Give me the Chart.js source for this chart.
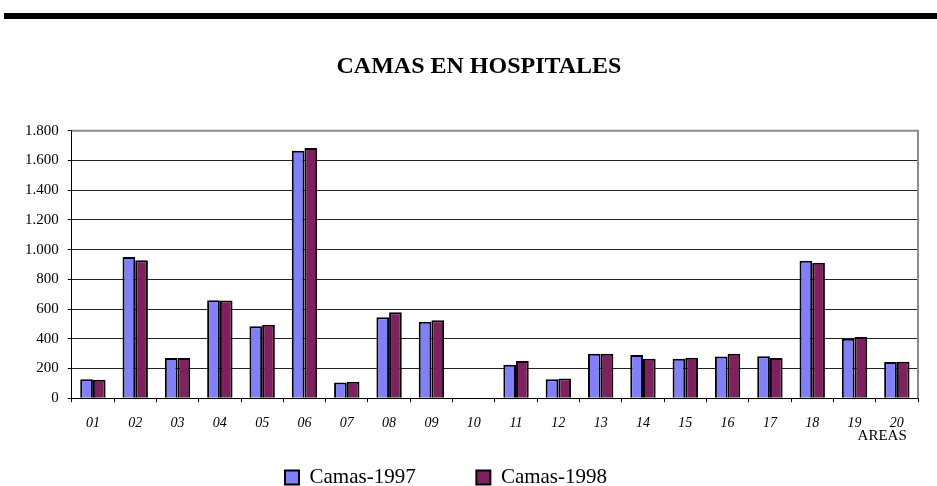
<!DOCTYPE html>
<html>
<head>
<meta charset="utf-8">
<style>
body { margin: 0; background: #fff; overflow: hidden; }
#rule { position: absolute; left: 4px; top: 13px; width: 933px; height: 6px; background: #000; }
#wrap { position: absolute; left: 0; top: 0; width: 937px; height: 498px; }
</style>
<title>CAMAS EN HOSPITALES</title>
</head>
<body>
<script src="https://cdn.jsdelivr.net/npm/chart.js@4/dist/chart.umd.min.js"></script>
<div id="rule"></div>
<div id="wrap"><canvas id="camas"></canvas></div>
<script>
var areas = ["01","02","03","04","05","06","07","08","09","10","11","12","13","14","15","16","17","18","19","20"];
var camas1997 = [128, 950, 270, 660, 485, 1665, 105, 545, 515, 0, 225, 128, 300, 290, 265, 280, 282, 925, 400, 243];
var camas1998 = [125, 928, 270, 658, 495, 1685, 110, 578, 525, 0, 250, 133, 300, 265, 272, 300, 270, 912, 412, 246];

var serif = "'Liberation Serif', 'Times New Roman', serif";

// borde gris del area de trazado (arriba y derecha)
var plotBorder = {
  id: 'plotBorder',
  beforeDatasetsDraw: function(chart) {
    var a = chart.chartArea, c = chart.ctx;
    c.save();
    c.strokeStyle = '#8c8c8c';
    c.lineWidth = 2;
    c.beginPath();
    c.moveTo(a.left, a.top);
    c.lineTo(a.right, a.top);
    c.lineTo(a.right, a.bottom);
    c.stroke();
    c.restore();
  }
};

var ctx = document.getElementById("camas");
var myChart = new Chart(ctx, {
  type: 'bar',
  data: {
    labels: areas,
    datasets: [
      { label: "Camas-1997", data: camas1997, backgroundColor: "#8080ff", borderColor: "#000", borderWidth: 2 },
      { label: "Camas-1998", data: camas1998, backgroundColor: "#802060", borderColor: "#000", borderWidth: 2 }
    ]
  },
  options: {
    responsive: true,
    maintainAspectRatio: false,
    animation: false,
    datasets: { bar: { barPercentage: 1.0, categoryPercentage: 0.6 } },
    layout: { padding: { left: 16, right: 19, top: 0, bottom: 0 } },
    plugins: {
      tooltip: { enabled: false },
      title: {
        display: true,
        text: "    CAMAS EN HOSPITALES",
        color: "#000",
        font: { family: serif, size: 24, weight: 'bold' },
        padding: { top: 52, bottom: 50 }
      },
      legend: {
        position: 'bottom',
        labels: {
          color: "#000",
          font: { family: serif, size: 21 },
          boxWidth: 14,
          boxHeight: 14,
          padding: 3,
          generateLabels: function(chart) {
            var items = Chart.defaults.plugins.legend.labels.generateLabels(chart);
            items.forEach(function(it, i) {
              it.lineWidth = 2;
              it.strokeStyle = "#000";
              if (i === 0) it.text = it.text + "           ";
              else it.text = it.text + "        ";
            });
            return items;
          }
        }
      }
    },
    scales: {
      x: {
        offset: true,
        grid: { offset: true, drawOnChartArea: false, drawTicks: true, tickLength: 4, color: "#000" },
        border: { color: "#000", width: 1 },
        ticks: { color: "#000", font: { family: serif, size: 14, style: 'italic' }, padding: 13 },
        title: { display: true, text: "AREAS   ", align: 'end', color: "#000", font: { family: serif, size: 15 }, padding: { top: -18, bottom: 19 } }
      },
      y: {
        min: 0,
        max: 1800,
        ticks: {
          stepSize: 200,
          color: "#000",
          font: { family: serif, size: 15 },
          padding: 9,
          callback: function(v) { return String(v).replace(/\B(?=(\d{3})+(?!\d))/g, "."); }
        },
        grid: {
          color: function(c) { return c.tick && c.tick.value === 1800 ? '#8c8c8c' : '#222'; },
          tickLength: 4,
          tickColor: '#000'
        },
        border: { color: "#000", width: 1 }
      }
    }
  },
  plugins: [plotBorder]
});
</script>
</body>
</html>
